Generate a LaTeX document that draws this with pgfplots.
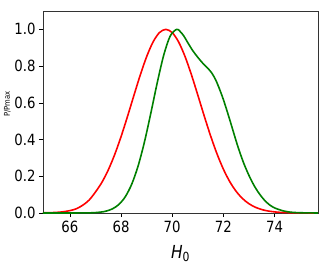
\documentclass[border=0pt]{standalone}
\usepackage{fontspec}
\setmainfont{DejaVu Sans}[FakeStretch=0.86]
\usepackage{pgfplots}
\pgfplotsset{compat=1.18}
\definecolor{mplgreen}{RGB}{0,128,0}
\begin{document}
\begin{tikzpicture}
\begin{axis}[
  scale only axis,
  width=275bp, height=202bp,
  at={(0,0)}, anchor=south west,
  xmin=64.95, xmax=75.7,
  ymin=0, ymax=1.1,
  xtick={66,68,70,72,74},
  ytick={0,0.2,0.4,0.6,0.8,1.0},
  yticklabel style={/pgf/number format/.cd,fixed,fixed zerofill,precision=1},
  /pgf/number format/assume math mode=true,
  tick align=outside,
  major tick length=4bp,
  xtick pos=bottom, ytick pos=left,
  tick style={black, line width=0.6pt},
  axis line style={black!80, line width=0.7pt},
  ticklabel style={font=\fontsize{15.5}{16}\selectfont},
  xticklabel style={yshift=-1bp},
  xlabel={\fontsize{18}{20}\selectfont\itshape H\textsubscript{\upshape 0}},
  xlabel style={at={(axis description cs:0.5,0)}, anchor=north, yshift=-29bp},
  ylabel={\fontsize{8}{9}\selectfont P/Pmax},
  ylabel style={at={(axis description cs:-0.13,0.54)}, anchor=center},
  clip=true,
]
\addplot[red, line width=1.6pt, smooth] coordinates {
(64.95,0.001) (65.25,0.002) (65.5,0.0035) (65.75,0.007) (66.0,0.013) (66.25,0.023)
(66.5,0.042) (66.75,0.07) (67.0,0.1141) (67.25,0.1664) (67.5,0.2339) (67.75,0.3173)
(68.0,0.4153) (68.25,0.5243) (68.5,0.6386) (68.75,0.7505) (69.0,0.8509) (69.25,0.9308)
(69.5,0.9822) (69.75,1.0) (70.0,0.9825) (70.25,0.9318) (70.5,0.8530) (70.75,0.7538)
(71.0,0.6430) (71.25,0.5294) (71.5,0.4208) (71.75,0.3228) (72.0,0.2391) (72.25,0.1709)
(72.5,0.1180) (72.75,0.0786) (73.0,0.0505) (73.25,0.0314) (73.5,0.0188) (73.75,0.0109)
(74.0,0.0061) (74.25,0.0033) (74.75,0.0009) (75.7,0.0)
};
\addplot[mplgreen, line width=1.6pt, smooth] coordinates {
(64.95,0.0) (66.67,0.0006) (67.17,0.0044) (67.42,0.0104) (67.67,0.023) (67.92,0.047)
(68.17,0.0893) (68.42,0.1574) (68.67,0.2571) (68.92,0.3893) (69.17,0.5467) (69.42,0.7121)
(69.67,0.8599) (69.92,0.9630) (70.17,1.0) (70.3,0.99) (70.45,0.965) (70.6,0.93)
(70.8,0.885) (71.0,0.848) (71.2,0.815) (71.4,0.787) (71.55,0.762) (71.7,0.725)
(71.85,0.675) (72.0,0.618) (72.15,0.553) (72.3,0.485) (72.45,0.415) (72.6,0.348)
(72.8,0.27) (73.0,0.205) (73.2,0.15) (73.4,0.106) (73.6,0.071) (73.8,0.045)
(74.0,0.028) (74.3,0.013) (74.6,0.005) (75.0,0.0015) (75.7,0.0)
};
\end{axis}
\pgfresetboundingbox
\path (-43bp,-60bp) rectangle (284bp,213bp);
\end{tikzpicture}
\end{document}
